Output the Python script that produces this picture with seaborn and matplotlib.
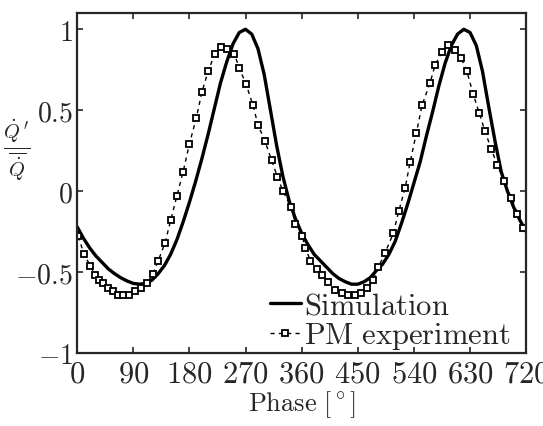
import pandas as pd
import seaborn as sns
import matplotlib
matplotlib.use("Agg")
import matplotlib.pyplot as plt

# simulation curve (phase in degrees, normalised heat release fluctuation)
sim_phase = [0, 10, 20, 30, 40, 50, 60, 70, 80, 90, 100, 110, 120, 130, 140, 150, 160, 170,
             180, 190, 200, 210, 220, 230, 240, 250, 260, 270, 280, 290, 300, 310, 320, 330,
             340, 350, 360, 370, 380, 390, 400, 410, 420, 430, 440, 450, 460, 470, 480, 490,
             500, 510, 520, 530, 540, 550, 560, 570, 580, 590, 600, 610, 620, 630, 640, 650,
             660, 670, 680, 690, 700, 710, 720]
sim_value = [-0.22, -0.29, -0.35, -0.40, -0.44, -0.48, -0.51, -0.535, -0.555, -0.57, -0.575,
             -0.57, -0.55, -0.51, -0.46, -0.39, -0.30, -0.19, -0.07, 0.06, 0.20, 0.35, 0.51,
             0.67, 0.80, 0.91, 0.98, 1.00, 0.97, 0.88, 0.72, 0.50, 0.28, 0.09, -0.06, -0.17,
             -0.26, -0.33, -0.39, -0.43, -0.47, -0.51, -0.54, -0.56, -0.575, -0.575, -0.56,
             -0.535, -0.49, -0.45, -0.39, -0.31, -0.20, -0.08, 0.05, 0.18, 0.34, 0.49, 0.65,
             0.79, 0.90, 0.97, 1.00, 0.98, 0.90, 0.74, 0.52, 0.31, 0.12, 0.00, -0.10, -0.18,
             -0.25]

# PM experiment points
pm_phase = [2, 11, 21, 29, 35, 42, 50, 58, 66, 74, 83, 93, 103, 112, 122, 130, 141, 150, 160,
            170, 180, 191, 200, 210, 221, 231, 241, 252, 260, 271, 282, 290, 301, 312, 321, 330,
            343, 350, 361, 366, 374, 385, 393, 402, 414, 425, 435, 446, 455, 465, 475, 483, 494,
            507, 516, 526, 534, 544, 553, 566, 574, 585, 595, 606, 616, 625, 635, 645, 654, 664,
            674, 685, 696, 706, 715]
pm_value = [-0.28, -0.39, -0.46, -0.52, -0.55, -0.57, -0.60, -0.62, -0.64, -0.64, -0.64, -0.62,
            -0.60, -0.57, -0.51, -0.43, -0.32, -0.18, -0.03, 0.12, 0.29, 0.45, 0.61, 0.74, 0.85,
            0.89, 0.88, 0.85, 0.76, 0.66, 0.53, 0.41, 0.31, 0.19, 0.09, 0.00, -0.10, -0.20,
            -0.28, -0.35, -0.43, -0.48, -0.52, -0.56, -0.61, -0.63, -0.64, -0.64, -0.63, -0.60,
            -0.55, -0.47, -0.38, -0.26, -0.12, 0.02, 0.18, 0.36, 0.53, 0.67, 0.78, 0.86, 0.90,
            0.87, 0.82, 0.74, 0.60, 0.48, 0.37, 0.26, 0.16, 0.06, -0.04, -0.14, -0.23]

x_ticks = [0, 90, 180, 270, 360, 450, 540, 630, 720]
x_tick_labels = [r'$0$', r'$90$', r'$180$', r'$270$', r'$360$', r'$450$', r'$540$', r'$630$', r'$720$']
y_ticks = [-1, -0.5, 0, 0.5, 1]
y_tick_labels = [r'$-1$', r'$-0.5$', r'$0$', r'$0.5$', r'$1$']

sim_df = pd.DataFrame({'Phase': sim_phase, 'Q': sim_value})
pm_df = pd.DataFrame({'Phase': pm_phase, 'Q': pm_value})

sns.set_style('ticks')
plt.rcParams['mathtext.fontset'] = 'cm'
plt.rcParams['font.family'] = ['DejaVu Serif']

fig = plt.figure(figsize=(5.43, 4.27), dpi=100)
ax = fig.add_axes([0.142, 0.171, 0.827, 0.796])

sns.lineplot(data=sim_df, x='Phase', y='Q', ax=ax, color='black', linewidth=2.4,
             label=r'$\mathrm{Simulation}$')
sns.lineplot(data=pm_df, x='Phase', y='Q', ax=ax, color='black', linewidth=1.0,
             linestyle=(0, (3, 3)), marker='s', markersize=4.8, markerfacecolor='white',
             markeredgecolor='black', markeredgewidth=1.3, label=r'$\mathrm{PM\ experiment}$')

ax.set_xlim(0, 720)
ax.set_ylim(-1, 1.1)
ax.set_xticks(x_ticks)
ax.set_xticklabels(x_tick_labels)
ax.set_yticks(y_ticks)
ax.set_yticklabels(y_tick_labels)
ax.tick_params(direction='in', top=True, right=True, length=4, width=1.2, pad=3)
ax.tick_params(axis='x', labelsize=22)
ax.tick_params(axis='y', labelsize=20)
for s in ax.spines.values():
    s.set_linewidth(1.6)

ax.set_xlabel(r'$\mathrm{Phase\ [^\circ]}$', fontsize=19, labelpad=0)
ax.set_ylabel(r"$\frac{\dot{Q}\,'}{\overline{\dot{Q}}}$", fontsize=21, rotation=0,
              va='center', ha='center')
ax.yaxis.set_label_coords(-0.135, 0.6)

leg = ax.legend(loc='lower left', bbox_to_anchor=(0.43, 0.005), frameon=False,
                fontsize=22, handlelength=1.0, handletextpad=0.1, labelspacing=-0.05,
                borderpad=0, borderaxespad=0)

fig.savefig('out.png', dpi=100)
